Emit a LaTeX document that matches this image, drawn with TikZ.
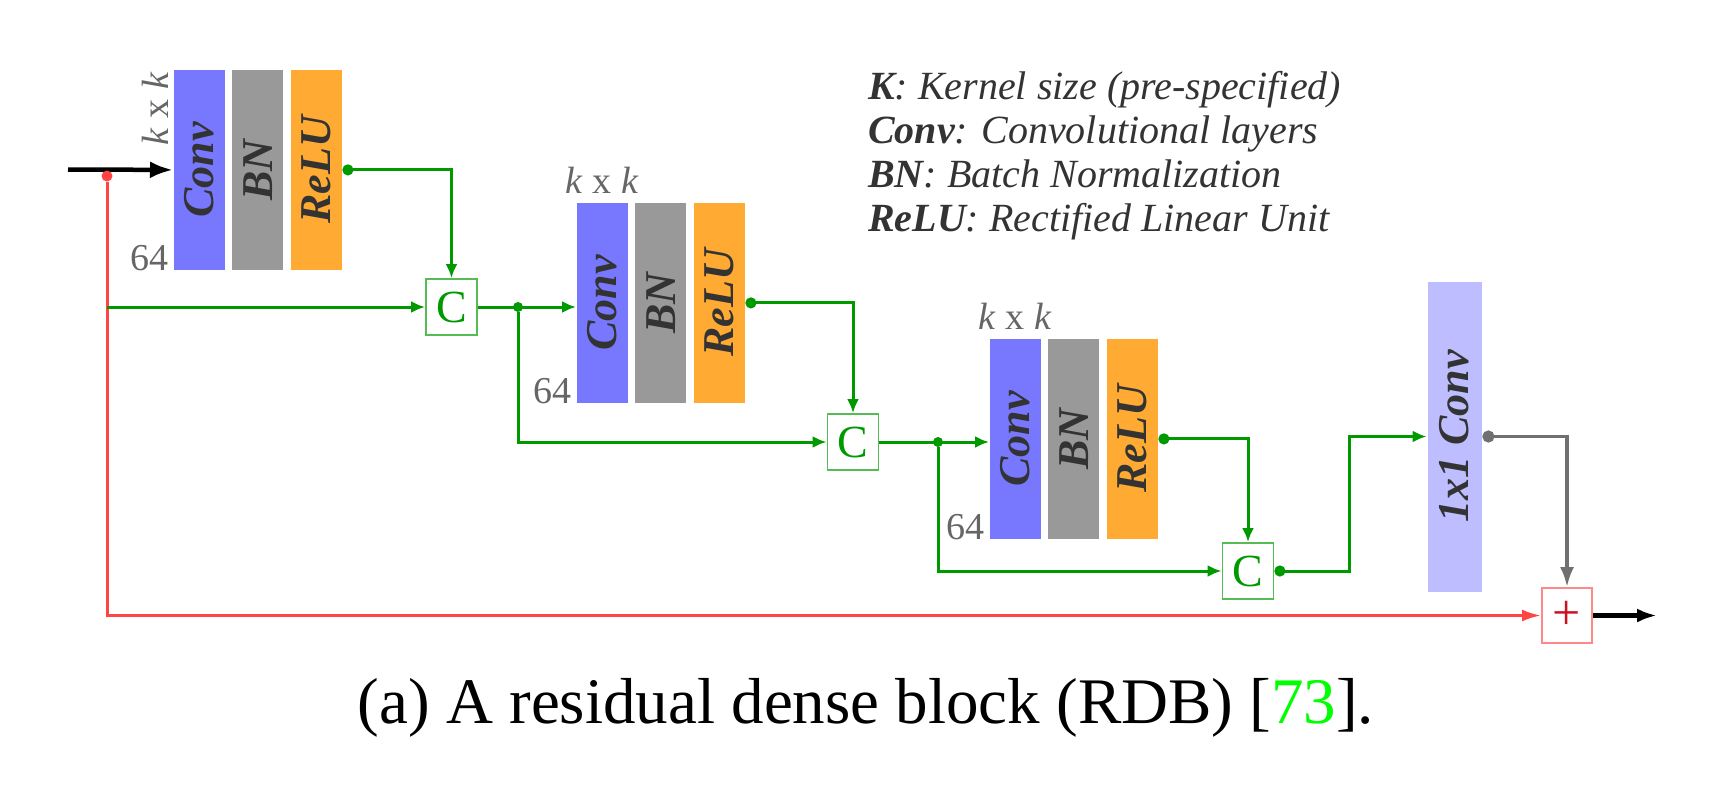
\documentclass[tikz,border=0pt]{standalone}
\usepackage{fontspec}
\setmainfont{Liberation Serif}
\usetikzlibrary{positioning,arrows.meta}

\definecolor{convblue}{HTML}{7878FF}
\definecolor{bngray}{HTML}{999999}
\definecolor{reluorange}{HTML}{FFAA33}
\definecolor{onebyone}{HTML}{BDBDFF}
\definecolor{linegreen}{HTML}{009900}
\definecolor{catgreen}{HTML}{55BB55}
\definecolor{linered}{HTML}{FF4444}
\definecolor{plusbox}{HTML}{FF8888}
\definecolor{plusred}{HTML}{CC1122}
\definecolor{linegray}{HTML}{707070}
\definecolor{labeldark}{HTML}{333333}
\definecolor{smallgray}{HTML}{666666}
\definecolor{citegreen}{HTML}{00FF00}

\tikzset{
   layer/.style={rectangle, inner sep=0pt, minimum width=52pt, minimum height=201pt,
      draw=white, line width=0.8pt},
   lbl/.style={rotate=90, inner sep=0pt, text=labeldark,
      font=\fontsize{44}{44}\selectfont\bfseries\itshape},
   small/.style={inner sep=0pt, text=smallgray, font=\fontsize{38}{38}\selectfont},
   legend/.style={inner sep=0pt, text=labeldark, font=\fontsize{40}{40}\selectfont\itshape},
   cat/.style={rectangle, draw=catgreen, line width=1.8pt, inner sep=0pt,
      minimum width=51pt, minimum height=56pt, text=linegreen,
      font=\fontsize{46}{46}\selectfont},
   gline/.style={draw=linegreen, line width=3pt, -{Latex[length=14pt,width=12pt]}},
   gdot/.style={circle, fill=linegreen, inner sep=0pt, minimum size=10pt},
   dotstart/.style={{Circle[length=11pt]}-{Latex[length=14pt,width=12pt]}}
}

\begin{document}
\begin{tikzpicture}[x=1pt, y=-1pt]
   \useasboundingbox (0,0) rectangle (1731,784);
   \def \Blocks {
      1/173/69,
      2/576/202,
      3/989/338}
   \foreach \b / \x / \y in \Blocks {
      \node[layer, fill=convblue, anchor=north west] (conv\b) at (\x, \y) {};
      \node[layer, fill=bngray, right=5.5pt of conv\b] (bn\b) {};
      \node[layer, fill=reluorange, right=5.5pt of bn\b] (relu\b) {};
      \node[lbl] (tconv\b) at (conv\b) {Conv};
      \node[lbl] (tbn\b) at (bn\b) {BN};
      \node[lbl] (trelu\b) at (relu\b) {ReLU};
      \node[small, anchor=base east] (ch\b) at ([xshift=-4pt]conv\b.south west) {64};
   }
   % kernel size labels
   \node[small, rotate=90, anchor=base east] (ker1) at ([xshift=-5pt, yshift=-3pt]conv1.north west) {\textit{k} x \textit{k}};
   \foreach \b in {2, 3} {
      \node[small, anchor=base] (ker\b) at ([yshift=9pt]conv\b.north) {\textit{k} x \textit{k}};
   }
   \node[rectangle, fill=onebyone, draw=white, line width=0.8pt, inner sep=0pt,
      minimum width=55pt, minimum height=311pt] (conv1x1) at (1454.5, 436.5) {};
   \node[lbl] (tconv1x1) at (conv1x1) {1x1 Conv};

   % concatenation and sum
   \node[cat] (c1) at (451.5, 307) {C};
   \node[cat] (c2) at (853, 442) {C};
   \node[cat] (c3) at (1248, 571) {C};
   \node[rectangle, draw=plusbox, line width=1.8pt, inner sep=0pt, minimum width=50pt,
      minimum height=55pt, text=plusred, font=\fontsize{50}{50}\selectfont] (plus) at (1567, 615.5) {+};

   % input, residual and output
   \coordinate (in) at (68, 169.5);
   \coordinate (out) at (1657, 615.5);
   \coordinate (g0) at (107, 307);
   \draw[line width=4.5pt, -{Latex[length=23pt,width=17pt]}] (in) -- (conv1.west);
   \node[circle, fill=linered, inner sep=0pt, minimum size=11pt] (rd) at (107, 176) {};
   \draw[draw=linered, line width=3pt, -{Latex[length=19pt,width=12pt]}] (rd) |- (plus.west);
   \draw[line width=4.5pt, -{Latex[length=20pt,width=14pt]}] (plus.east) -- (out);

   % dense connections
   \node[gdot] (j1) at (518, 307) {};
   \node[gdot] (j2) at (938, 442) {};
   \draw[gline] (g0) -- (c1.west);
   \draw[gline, dotstart] (relu1.east) -| (c1.north);
   \draw[gline] (c1.east) -- (c1.east -| conv2.west);
   \draw[gline] (j1) |- (c2.west);
   \draw[gline, dotstart] (relu2.east) -| (c2.north);
   \draw[gline] (c2.east) -- (c2.east -| conv3.west);
   \draw[gline] (j2) |- (c3.west);
   \draw[gline, dotstart] (relu3.east) -| (c3.north);
   \draw[gline, dotstart] (c3.east) -- ++(75, 0) |- (conv1x1.west);
   \draw[draw=linegray, line width=3.5pt, {Circle[length=12pt]}-{Latex[length=20pt,width=14pt]}] (conv1x1.east) -| (plus.north);

   % legend
   \foreach \i / \k / \v in {1/K/Kernel size (pre-specified), 2/Conv/Convolutional layers,
         3/BN/Batch Normalization, 4/ReLU/Rectified Linear Unit} {
      \node[legend, anchor=base west] (leg\i) at (868, 55+44*\i) {\textbf{\k}: \v};
   }

   \node[inner sep=0pt, anchor=base, font=\fontsize{65}{65}\selectfont] (caption) at (866, 723)
      {(a) A residual dense block (RDB) [\textcolor{citegreen}{73}].};
\end{tikzpicture}
\end{document}
